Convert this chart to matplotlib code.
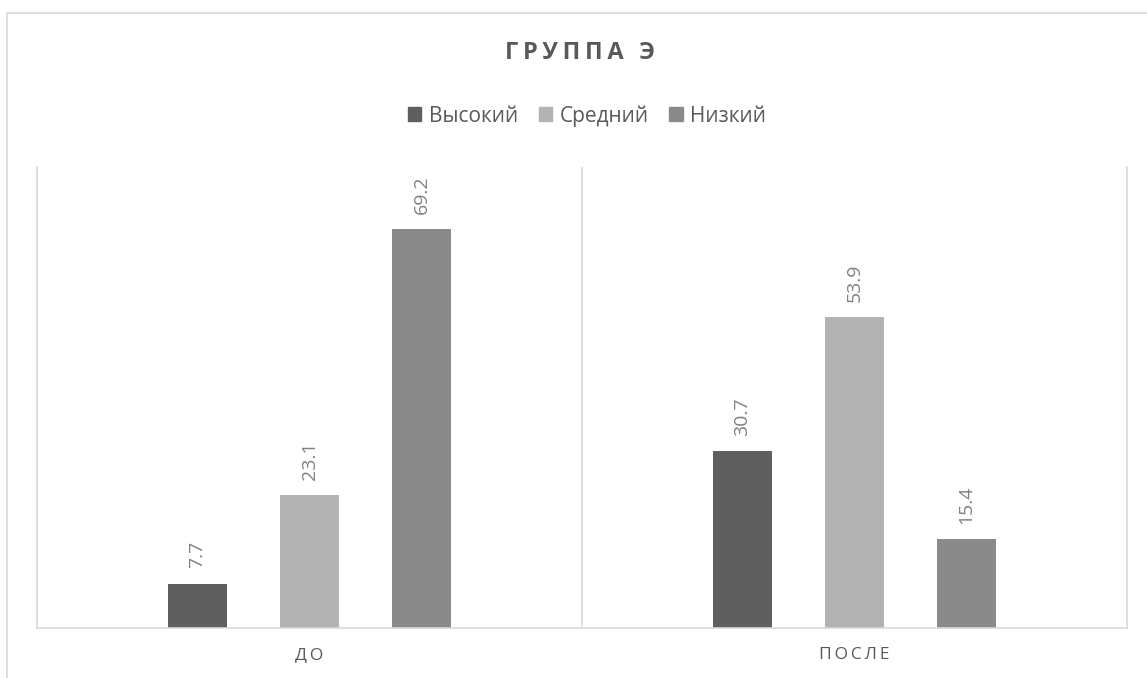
import matplotlib
matplotlib.use("Agg")
import matplotlib.pyplot as plt
from matplotlib.patches import Patch, Rectangle
import numpy as np

plt.rcParams['font.family'] = ['Open Sans', 'DejaVu Sans']

# data
categories = ["ДО", "ПОСЛЕ"]
series_names = ["Высокий", "Средний", "Низкий"]
vysokiy = [7.7, 30.7]
sredniy = [23.1, 53.9]
nizkiy = [69.2, 15.4]
colors = ["#5f5f5f", "#b3b3b3", "#8a8a8a"]

W, H = 1147, 678
fig = plt.figure(figsize=(W / 100, H / 100), dpi=100)

# outer chart border (cut off on right/bottom like the reference)
fig.patches.append(Rectangle((7 / W, -0.1), 1.2, (H - 13) / H + 0.1,
                             transform=fig.transFigure, fill=False,
                             edgecolor="#d9d9d9", linewidth=1.2))

ax = fig.add_axes([37 / W, (H - 628) / H, 1090 / W, 461 / H])

x = np.arange(len(categories))
offset = 112 / 545
width = 59 / 545
for i, (vals, name) in enumerate(zip([vysokiy, sredniy, nizkiy], series_names)):
    pos = x + (i - 1) * offset
    bars = ax.bar(pos, vals, width=width, color=colors[i], label=name)
    for b, v in zip(bars, vals):
        ax.annotate(f"{v}", (b.get_x() + b.get_width() / 2, v),
                    xytext=(0, 11), textcoords="offset points",
                    rotation=90, ha="center", va="bottom",
                    fontsize=14, color="#808080")

ax.set_xlim(-0.5, 1.5)
ax.set_ylim(0, 80)
ax.axvline(0.5, color="#d9d9d9", linewidth=1.2)
for s in ["left", "right", "bottom"]:
    ax.spines[s].set_color("#d9d9d9")
    ax.spines[s].set_linewidth(1.2)
ax.spines["top"].set_visible(False)
ax.set_yticks([])
ax.set_xticks(x)
ax.set_xticklabels(["\u2009".join(c) for c in categories], fontsize=12.5, color="#595959")
ax.tick_params(axis="x", length=0, pad=14)

fig.text(580 / W, 1 - 53 / H, "\u2009".join("ГРУППА Э"), ha="center", va="center",
         fontsize=17, fontweight="bold", color="#595959")

handles = [Patch(color=c, label=n) for c, n in zip(colors, series_names)]
fig.legend(handles=handles, loc="center", bbox_to_anchor=(587 / W, 1 - 116 / H),
           ncol=3, frameon=False, fontsize=15, handlelength=0.65, handleheight=0.65,
           handletextpad=0.35, columnspacing=1.0, labelcolor="#595959")

fig.savefig("out.png", dpi=100)
